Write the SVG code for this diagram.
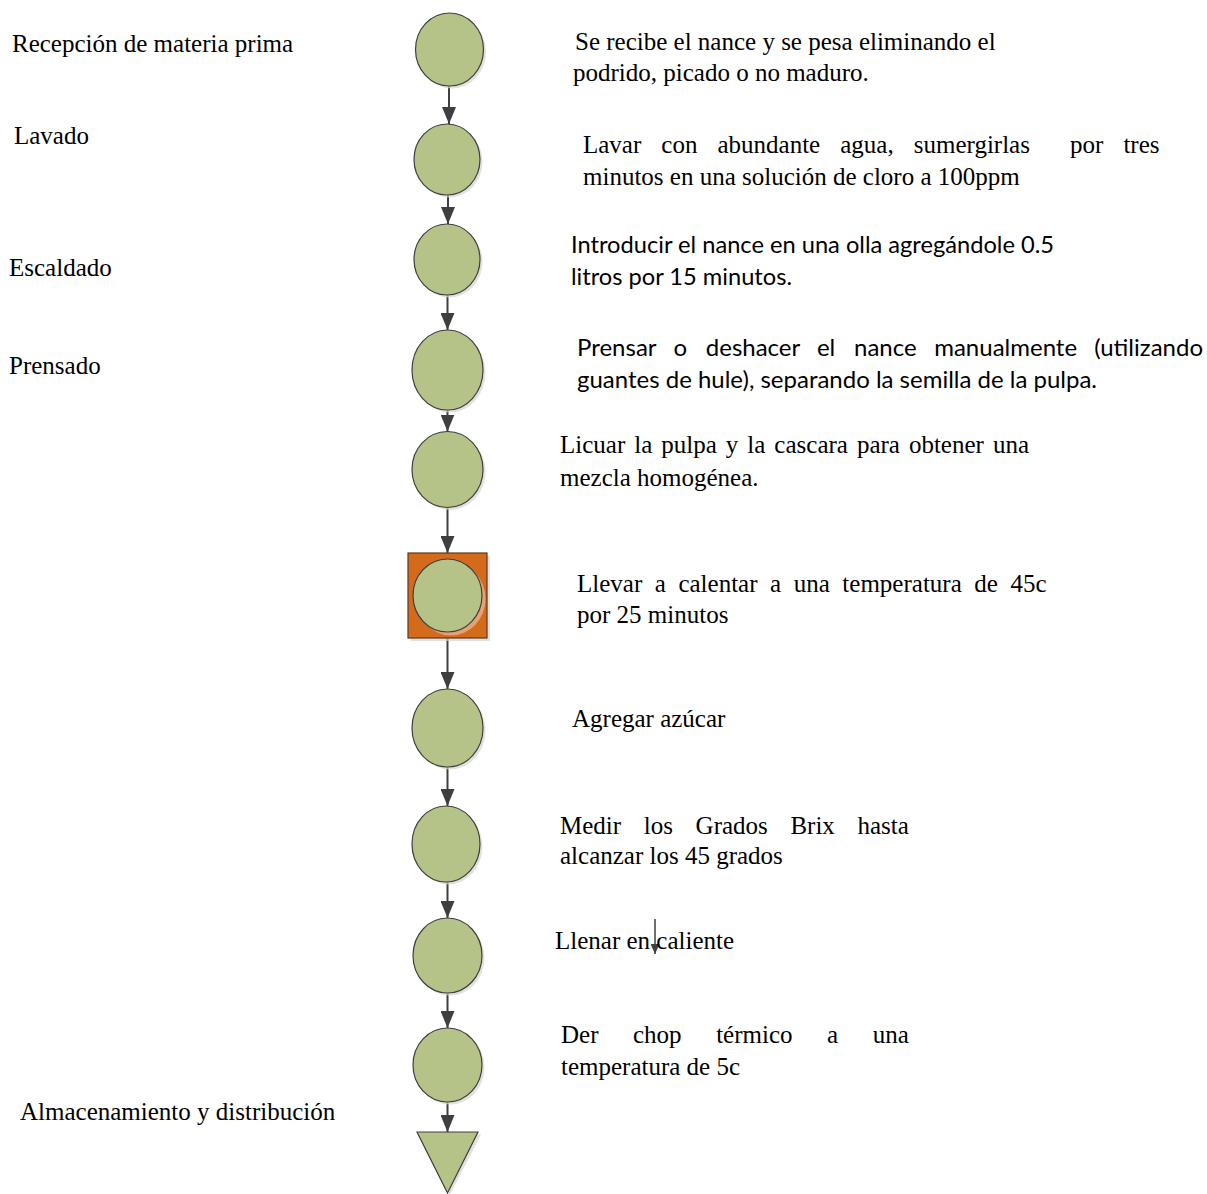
<svg xmlns="http://www.w3.org/2000/svg" width="1207" height="1194" viewBox="0 0 1207 1194">
<defs>
<marker id="ah" viewBox="0 0 17 14" refX="17" refY="7" markerWidth="17" markerHeight="14" markerUnits="userSpaceOnUse" orient="auto">
<path d="M0,0 L17,7 L0,14 z" fill="#3f3f3f"/>
</marker>
<marker id="ahs" viewBox="0 0 10 9" refX="10" refY="4.5" markerWidth="10" markerHeight="9" markerUnits="userSpaceOnUse" orient="auto">
<path d="M0,0 L10,4.5 L0,9 z" fill="#3f3f3f"/>
</marker>
</defs>
<style>
.bg{fill:#ffffff}
.node{fill:#b5c388;stroke:#3f3f3f;stroke-width:1.2}
.sh{fill:#d4d4d4;opacity:0.7}
.conn{stroke:#3f3f3f;stroke-width:2;fill:none;marker-end:url(#ah)}
.t{font-family:"Liberation Serif","Times New Roman",serif;font-size:25px;fill:#000}
.c{font-family:Lato,"Noto Sans",sans-serif;font-size:24px;fill:#000}
</style>
<rect class="bg" x="0" y="0" width="1207" height="1194"/>

<g id="connectors">
<line class="conn" x1="449" y1="86" x2="449" y2="124"/>
<line class="conn" x1="448" y1="195" x2="448" y2="224"/>
<line class="conn" x1="447.5" y1="295" x2="447.5" y2="330"/>
<line class="conn" x1="447.5" y1="410" x2="447.5" y2="431.5"/>
<line class="conn" x1="447.5" y1="507.5" x2="447.5" y2="553"/>
<line class="conn" x1="447.5" y1="638" x2="447.5" y2="689"/>
<line class="conn" x1="447.5" y1="767" x2="447.5" y2="806"/>
<line class="conn" x1="447.5" y1="882" x2="447.5" y2="918"/>
<line class="conn" x1="447.5" y1="993" x2="447.5" y2="1028"/>
<line class="conn" x1="447.5" y1="1102" x2="447.5" y2="1132"/>
<line x1="655" y1="919" x2="655" y2="954" stroke="#3f3f3f" stroke-width="1.5" marker-end="url(#ahs)"/>
</g>

<g id="n1"><ellipse class="sh" cx="452" cy="52" rx="34" ry="36.5"/><ellipse class="node" cx="449.5" cy="49.5" rx="34" ry="36.5"/></g>
<g id="n2"><ellipse class="sh" cx="449.5" cy="162" rx="33" ry="35.5"/><ellipse class="node" cx="447" cy="159.5" rx="33" ry="35.5"/></g>
<g id="n3"><ellipse class="sh" cx="449.5" cy="262" rx="33" ry="35.5"/><ellipse class="node" cx="447" cy="259.5" rx="33" ry="35.5"/></g>
<g id="n4"><ellipse class="sh" cx="450" cy="372.5" rx="35.5" ry="40"/><ellipse class="node" cx="447.5" cy="370" rx="35.5" ry="40"/></g>
<g id="n5"><ellipse class="sh" cx="450" cy="472" rx="35.5" ry="38"/><ellipse class="node" cx="447.5" cy="469.5" rx="35.5" ry="38"/></g>
<g id="n6">
<rect x="411" y="556" width="79" height="85" fill="#d4d4d4" opacity="0.7"/>
<rect x="408" y="553" width="79" height="85" fill="#d36a1c" stroke="#5b3a1e" stroke-width="1.2"/>
<ellipse cx="451" cy="599" rx="34.5" ry="36.5" fill="#e6a174"/>
<ellipse class="node" cx="447.5" cy="595.5" rx="34.5" ry="36.5"/>
</g>
<g id="n7"><ellipse class="sh" cx="450" cy="730.5" rx="35.5" ry="39"/><ellipse class="node" cx="447.5" cy="728" rx="35.5" ry="39"/></g>
<g id="n8"><ellipse class="sh" cx="448.5" cy="846.5" rx="34" ry="38"/><ellipse class="node" cx="446" cy="844" rx="34" ry="38"/></g>
<g id="n9"><ellipse class="sh" cx="450" cy="958" rx="34.5" ry="37.5"/><ellipse class="node" cx="447.5" cy="955.5" rx="34.5" ry="37.5"/></g>
<g id="n10"><ellipse class="sh" cx="450" cy="1067.5" rx="34.5" ry="37"/><ellipse class="node" cx="447.5" cy="1065" rx="34.5" ry="37"/></g>
<g id="n11"><polygon points="420,1134.5 481,1134.5 450,1195" class="sh"/><polygon class="node" points="417,1132 478,1132 447.5,1193"/></g>

<g id="labels-left">
<text class="t" x="12" y="51.5">Recepción de materia prima</text>
<text class="t" x="14" y="144">Lavado</text>
<text class="t" x="9" y="276">Escaldado</text>
<text class="t" x="9" y="374">Prensado</text>
<text class="t" x="20" y="1120">Almacenamiento y distribución</text>
</g>

<g id="descriptions">
<text class="t" x="575" y="50">Se recibe el nance y se pesa eliminando el</text>
<text class="t" x="573" y="81">podrido, picado o no maduro.</text>
<text class="t" x="583" y="153" word-spacing="13.8" xml:space="preserve">Lavar con abundante agua, sumergirlas  por tres</text>
<text class="t" x="583" y="185">minutos en una solución de cloro a 100ppm</text>
<text class="c" x="571" y="253" textLength="483" lengthAdjust="spacingAndGlyphs">Introducir el nance en una olla agregándole 0.5</text>
<text class="c" x="571" y="285" textLength="221" lengthAdjust="spacingAndGlyphs">litros por 15 minutos.</text>
<text class="c" y="356"><tspan x="577">Prensar</tspan><tspan x="673.6">o</tspan><tspan x="705.8">deshacer</tspan><tspan x="816.9">el</tspan><tspan x="854">nance</tspan><tspan x="934.2">manualmente</tspan><tspan x="1203" text-anchor="end">(utilizando</tspan></text>
<text class="c" x="577" y="388" textLength="520" lengthAdjust="spacingAndGlyphs">guantes de hule), separando la semilla de la pulpa.</text>
<text class="t" x="560" y="453" word-spacing="2.75">Licuar la pulpa y la cascara para obtener una</text>
<text class="t" x="560" y="486">mezcla homogénea.</text>
<text class="t" x="577" y="592" word-spacing="6.3">Llevar a calentar a una temperatura de 45c</text>
<text class="t" x="577" y="623">por 25 minutos</text>
<text class="t" x="572" y="727">Agregar azúcar</text>
<text class="t" x="560" y="834" word-spacing="16.4">Medir los Grados Brix hasta</text>
<text class="t" x="560" y="864">alcanzar los 45 grados</text>
<text class="t" x="555" y="949">Llenar en caliente</text>
<text class="t" x="561" y="1043" word-spacing="28.3">Der chop térmico a una</text>
<text class="t" x="561" y="1075">temperatura de 5c</text>
</g>
</svg>
